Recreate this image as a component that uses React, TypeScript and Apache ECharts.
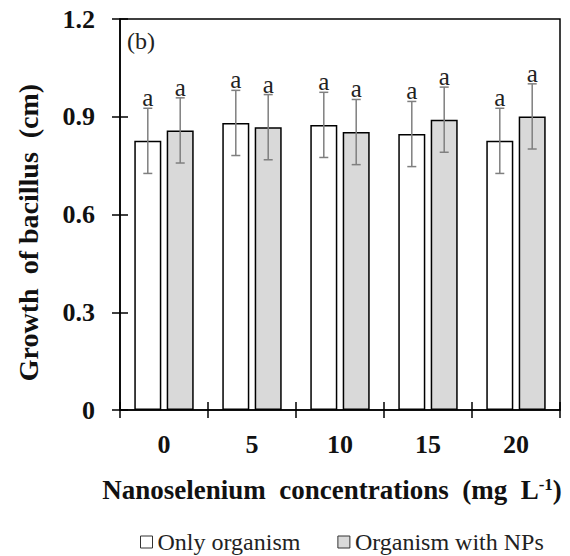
import React, { useEffect, useRef } from "react";
import * as echarts from "echarts";

const categories = ["0", "5", "10", "15", "20"];
const onlyOrganism = [0.826, 0.881, 0.875, 0.847, 0.826];
const withNPs = [0.858, 0.868, 0.853, 0.891, 0.901];
const errOnly = [0.1, 0.1, 0.1, 0.1, 0.1];
const errNPs = [0.1, 0.1, 0.1, 0.1, 0.1];
const lettersOnly = ["a", "a", "a", "a", "a"];
const lettersNPs = ["a", "a", "a", "a", "a"];
const legendNames = ["Only organism", "Organism with NPs"];
const yTicks = [0, 0.3, 0.6, 0.9, 1.2];

const FONT = "Liberation Serif";

export default function App() {
  const ref = useRef<HTMLDivElement>(null);
  useEffect(() => {
    if (!ref.current) return;
    const chart = echarts.init(ref.current, undefined, { renderer: "svg" });
    const errData: number[][] = [];
    onlyOrganism.forEach((v, i) => errData.push([i, v, errOnly[i], 0]));
    withNPs.forEach((v, i) => errData.push([i, v, errNPs[i], 1]));
    const BAR_W = 27;
    const OFFSET = (BAR_W * 1.2) / 2;
    const legendText = { fontSize: 24, fontFamily: FONT, fontWeight: "normal", color: "#222" };
    chart.setOption({
      animation: false,
      textStyle: { fontFamily: FONT },
      grid: {
        left: 120,
        right: 10,
        top: 19,
        bottom: 146,
        show: true,
        borderColor: "#000",
        borderWidth: 1.5,
        backgroundColor: "transparent",
        outerBoundsMode: "none",
        containLabel: false,
      },
      legend: {
        left: 140,
        top: 530,
        padding: 0,
        itemWidth: 12,
        itemHeight: 12,
        itemGap: 37,
        icon: "rect",
        itemStyle: { borderColor: "#333", borderWidth: 1 },
        formatter: (name: string) => "{t|" + name + "}",
        textStyle: { ...legendText, rich: { t: legendText } },
        data: legendNames,
      },
      graphic: [
        {
          type: "text",
          left: 127,
          top: 29,
          style: { text: "(b)", fontSize: 24, fontFamily: FONT, fill: "#222" },
        },
      ],
      xAxis: [
        {
          type: "category",
          data: categories,
          axisLine: { lineStyle: { color: "#000", width: 1.5 } },
          axisTick: { show: true, length: 8, lineStyle: { color: "#000", width: 1.5 } },
          axisLabel: {
            fontSize: 26,
            fontWeight: "bold",
            fontFamily: FONT,
            color: "#111",
            margin: 21,
          },
          name: "Nanoselenium  concentrations  (mg  L{sup|-1})",
          nameLocation: "middle",
          nameGap: 66,
          nameTextStyle: {
            fontSize: 27,
            fontWeight: "bold",
            fontFamily: FONT,
            color: "#111",
            padding: [0, 16, 0, 0],
            rich: {
              sup: { fontSize: 17, fontWeight: "bold", fontFamily: FONT, color: "#111", verticalAlign: "top" },
            },
          },
        },
        {
          type: "category",
          data: categories,
          position: "bottom",
          axisLine: { show: false },
          axisTick: { show: true, inside: true, length: 8, lineStyle: { color: "#000", width: 1.5 } },
          axisLabel: { show: false },
        },
      ],
      yAxis: [
        {
          type: "value",
          min: 0,
          max: 1.2,
          interval: 0.3,
          axisLine: { show: true, lineStyle: { color: "#000", width: 1.5 } },
          axisTick: { show: true, length: 8, lineStyle: { color: "#000", width: 1.5 } },
          splitLine: { show: false },
          axisLabel: {
            fontSize: 26,
            fontWeight: "bold",
            fontFamily: FONT,
            color: "#111",
            margin: 25,
            formatter: (v: number) => {
              const t = yTicks.find((x) => Math.abs(x - v) < 1e-9);
              return t === undefined ? "" : String(t);
            },
          },
          name: "Growth  of bacillus  (cm)",
          nameLocation: "middle",
          nameGap: 78,
          nameTextStyle: {
            fontSize: 28,
            fontWeight: "bold",
            fontFamily: FONT,
            color: "#111",
            padding: [0, 36, 0, 0],
          },
        },
        {
          type: "value",
          min: 0,
          max: 1.2,
          interval: 0.3,
          position: "left",
          axisLine: { show: false },
          axisTick: { show: true, inside: true, length: 8, lineStyle: { color: "#000", width: 1.5 } },
          splitLine: { show: false },
          axisLabel: { show: false },
        },
      ],
      series: [
        {
          name: legendNames[0],
          type: "bar",
          data: onlyOrganism,
          barWidth: BAR_W,
          barGap: "20%",
          itemStyle: { color: "#ffffff", borderColor: "#000", borderWidth: 1.5 },
        },
        {
          name: legendNames[1],
          type: "bar",
          data: withNPs,
          barWidth: BAR_W,
          barGap: "20%",
          itemStyle: { color: "#d9d9d9", borderColor: "#000", borderWidth: 1.5 },
        },
        {
          type: "custom",
          name: "errors",
          z: 5,
          data: errData,
          encode: { x: 0, y: 1 },
          renderItem: (params: any, api: any) => {
            const ci = api.value(0);
            const v = api.value(1);
            const e = api.value(2);
            const s = api.value(3);
            const base = api.coord([ci, v]);
            const x = base[0] + (s === 0 ? -OFFSET : OFFSET);
            const top = api.coord([ci, v + e])[1];
            const bot = api.coord([ci, v - e])[1];
            const letter = s === 0 ? lettersOnly[ci] : lettersNPs[ci];
            const ls = { stroke: "#7f7f7f", lineWidth: 1.5 };
            return {
              type: "group",
              children: [
                { type: "line", shape: { x1: x, y1: top, x2: x, y2: bot }, style: ls },
                { type: "line", shape: { x1: x - 4.5, y1: top, x2: x + 4.5, y2: top }, style: ls },
                { type: "line", shape: { x1: x - 4.5, y1: bot, x2: x + 4.5, y2: bot }, style: ls },
                {
                  type: "text",
                  x: x,
                  y: top + 2,
                  style: {
                    text: letter,
                    align: "center",
                    verticalAlign: "bottom",
                    fontSize: 25,
                    fontFamily: FONT,
                    fill: "#222",
                  },
                },
              ],
            };
          },
        },
      ],
    });
    return () => chart.dispose();
  }, []);
  return (
    <div
      ref={ref}
      style={{ position: "absolute", left: 0, top: 0, width: 570, height: 556 }}
    />
  );
}
